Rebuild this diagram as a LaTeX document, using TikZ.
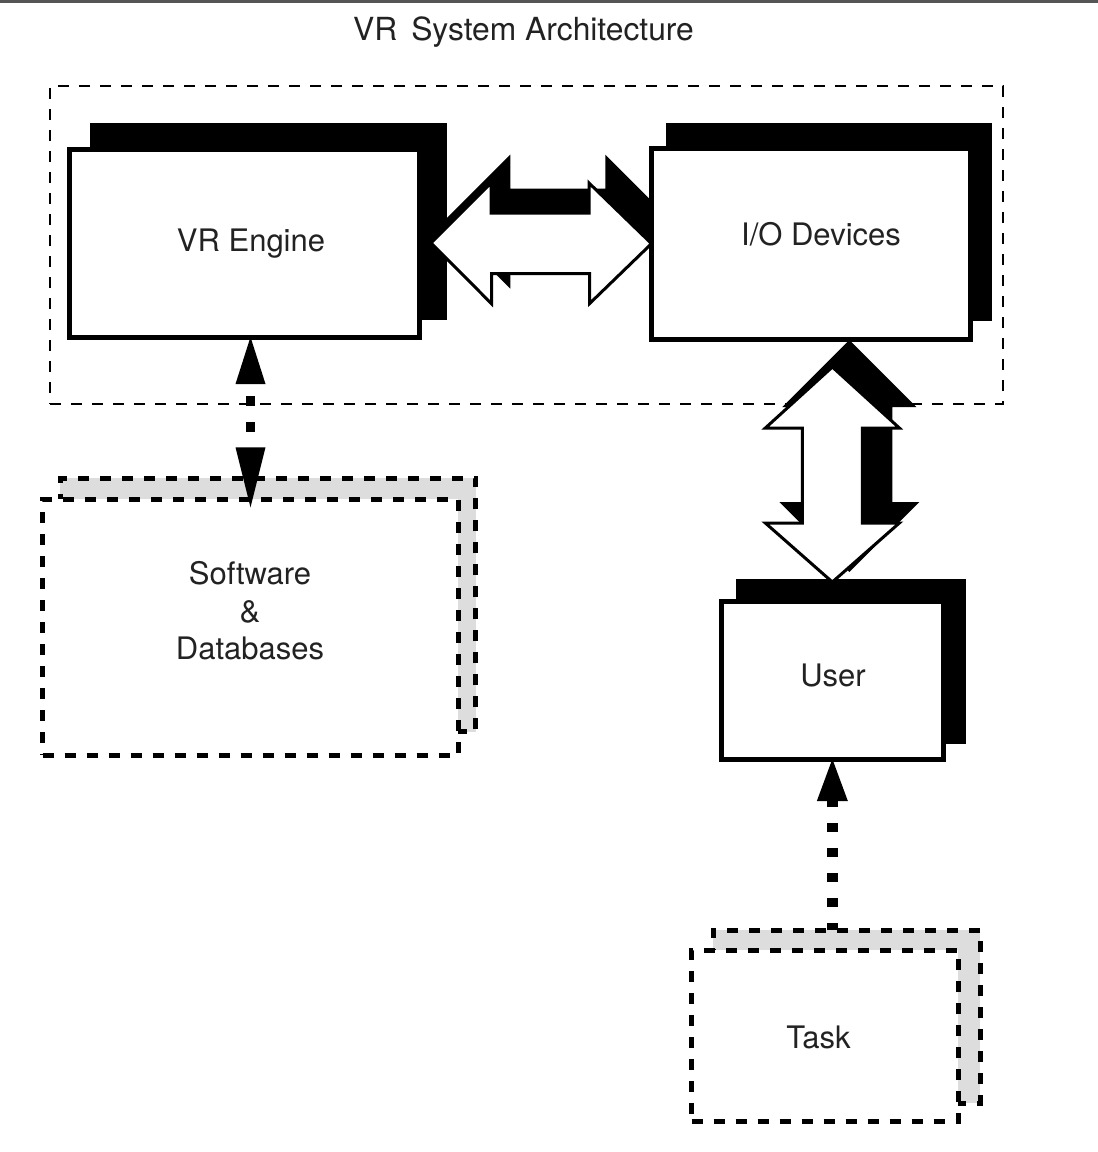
\documentclass[tikz,border=0pt]{standalone}
\usepackage{fontspec}
\setmainfont{TeX Gyre Heros}
\usetikzlibrary{arrows.meta,calc}
\definecolor{barcol}{HTML}{555555}
\definecolor{txtcol}{HTML}{222222}
\definecolor{shadegray}{HTML}{DDDDDD}
\begin{document}
\begin{tikzpicture}[x=1pt,y=-1pt,
  every node/.style={inner sep=0pt, outer sep=0pt},
  lbl/.style={font=\fontsize{31}{37.5}\selectfont, text=txtcol, anchor=base},
  mainbox/.style={rectangle, draw=black, line width=5pt, fill=white},
  shadowbox/.style={rectangle, fill=black},
  dashbox/.style={rectangle, draw=black, line width=5pt, fill=white, dash pattern=on 11pt off 11pt},
  dashshadow/.style={rectangle, draw=black, line width=5pt, fill=shadegray, dash pattern=on 11pt off 11pt},
  sysframe/.style={rectangle, draw=black, line width=2.7pt, dash pattern=on 11pt off 10pt},
  blockarrow/.style={fill=white, draw=black, line width=3pt, line join=miter},
  blockshadow/.style={fill=black},
  dotconn/.style={line width=9pt, dash pattern=on 10pt off 16pt, dash phase=14pt},
  dotconnb/.style={line width=11pt, dash pattern=on 9pt off 16pt, dash phase=2pt}
]
\useasboundingbox (0,0) rectangle (1098,1152);
\fill[white] (0,0) rectangle (1098,1152);
\fill[barcol] (0,0) rectangle (1098,2.5);

\node[lbl, font=\fontsize{31.8}{37.5}\selectfont] (title) at (523.5,40) {VR\hspace{14pt}System Architecture};

% system frame
\node[sysframe, minimum width=953pt, minimum height=318pt] (vrsys) at (526.5,245) {};

% box shadows
\node[shadowbox, minimum width=357.3pt, minimum height=196.7pt] (vrS) at (268.65,221.65) {};
\node[shadowbox, minimum width=326.3pt, minimum height=197.4pt] (ioS) at (829.15,222) {};
\node[shadowbox, minimum width=229.7pt, minimum height=164.7pt] (userS) at (850.85,661.65) {};

% main boxes
\node[mainbox, minimum width=349.5pt, minimum height=188pt] (vr) at (244.25,243) {};
\node[mainbox, minimum width=319pt, minimum height=190.7pt] (io) at (811,243.65) {};
\node[mainbox, minimum width=221.3pt, minimum height=157.3pt] (user) at (832.35,680.35) {};

% block arrow shadows
\fill[blockshadow] ($(vrS.east)+(-4,0)$) -- ++(67,-67) -- ++(0,34) -- ++(95,0) -- ++(0,-34)
   -- ++(67,67) -- ++(-67,67) -- ++(0,-34) -- ++(-95,0) -- ++(0,34) -- cycle;
\fill[blockshadow] ($(io.south -| user.north)+(17,1)$) -- ++(67,67) -- ++(-24,0) -- ++(0,95) -- ++(27,0)
   -- ++(-70,70) -- ++(-70,-70) -- ++(27,0) -- ++(0,-95) -- ++(-24,0) -- cycle;
\node[mainbox, minimum width=319pt, minimum height=190.7pt] at (io) {};

% white block arrows
\draw[blockarrow] ([xshift=12pt]vr.east) -- ++(60,-60) -- ++(0,30) -- ++(98,0) -- ++(0,-30)
   -- (io.west) -- ++(-62,60) -- ++(0,-30) -- ++(-98,0) -- ++(0,30) -- cycle;
\draw[blockarrow] ($(io.south -| user.north)+(0,28)$) -- ++(67,61) -- ++(-37,0) -- ++(0,95) -- ++(37,0)
   -- ++(-67,59) -- ++(-67,-59) -- ++(37,0) -- ++(0,-95) -- ++(-37,0) -- cycle;

% labels
\node[lbl] (vrlbl) at (251,251) {VR Engine};
\node[lbl] (iolbl) at (821,245) {I/O Devices};
\node[lbl] (userlbl) at (833,686.7) {User};

% dashed boxes
\node[dashshadow, minimum width=415.7pt, minimum height=253.4pt] (swS) at (267.85,605) {};
\node[dashbox, minimum width=415.6pt, minimum height=255.7pt] (sw) at (250.5,627.15) {};
\node[dashshadow, minimum width=266.7pt, minimum height=173.3pt] (taskS) at (846.65,1016.65) {};
\node[dashbox, minimum width=266.6pt, minimum height=171.7pt] (task) at (825,1035.85) {};

\node[font=\fontsize{31}{37.5}\selectfont, text=txtcol, align=center] (swlbl) at (250,611) {Software\\\&\\Databases};
\node[lbl] (tasklbl) at (818.5,1048) {Task};

% dashed connectors
\draw[dotconn, {Triangle[length=47pt 0 0, width=30pt 0 0, line width=0pt]}-{Triangle[length=60pt 0 0, width=30pt 0 0, line width=0pt]}]
  (sw.north |- vr.south) -- ([yshift=-8pt]sw.north);
\draw[dotconnb, -{Triangle[length=42pt 0 0, width=31pt 0 0, line width=0pt]}]
  (user.south |- taskS.north) -- (user.south);
\end{tikzpicture}
\end{document}
